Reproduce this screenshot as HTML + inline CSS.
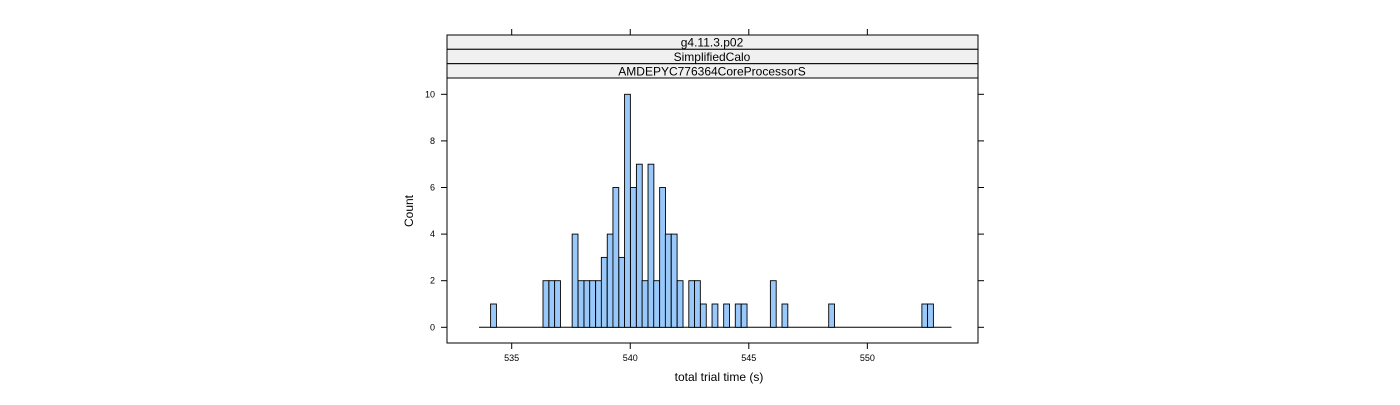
<!DOCTYPE html>
<html><head><meta charset="utf-8"><style>
body{margin:0;background:#fff;}
svg text{font-family:"Liberation Sans",sans-serif;}
</style></head><body>
<svg id="chart" width="1400" height="400" xmlns="http://www.w3.org/2000/svg">
<g id="strips">
<rect x="447" y="35" width="531" height="14.3" fill="#f0f0f0" stroke="#000" stroke-width="1"/>
<rect x="447" y="49.3" width="531" height="14.4" fill="#f0f0f0" stroke="#000" stroke-width="1"/>
<rect x="447" y="63.7" width="531" height="14.3" fill="#f0f0f0" stroke="#000" stroke-width="1"/>
<text x="712" y="46.5" font-size="12" text-anchor="middle">g4.11.3.p02</text>
<text x="712" y="61" font-size="12" text-anchor="middle">SimplifiedCalo</text>
<text x="712" y="75.3" font-size="12" text-anchor="middle">AMDEPYC776364CoreProcessorS</text>
</g>
<rect x="447" y="78" width="531" height="265" fill="none" stroke="#000" stroke-width="1"/>
<g id="axes"></g>
<g id="bars"></g>
<text x="719" y="381" font-size="12" text-anchor="middle">total trial time (s)</text>
<text x="0" y="0" font-size="12" text-anchor="middle" transform="translate(413,211) rotate(-90)">Count</text>
</svg>
<script>
const binStarts = [534.11,536.32,536.57,536.81,537.55,537.80,538.05,538.29,538.54,538.78,539.03,539.27,539.52,539.76,540.01,540.26,540.50,540.75,540.99,541.24,541.48,541.73,541.98,542.47,542.71,542.96,543.45,543.94,544.43,544.68,545.91,546.40,548.37,552.30,552.54];
const counts = [1,2,2,2,4,2,2,2,2,3,4,6,3,10,6,7,2,7,2,6,4,4,2,2,2,1,1,1,1,1,2,1,1,1,1];
const binWidth = 0.2457;
const xRange = [533.62, 553.55];
const xTicks = [535,540,545,550];
const yTicks = [0,2,4,6,8,10];

const NS = "http://www.w3.org/2000/svg";
function xs(v){ return 511.7 + (v-535)*23.71; }
function ys(c){ return 327.3 - c*23.3; }
function mk(tag, attrs, parent){
  const e = document.createElementNS(NS, tag);
  for (const k in attrs) e.setAttribute(k, attrs[k]);
  parent.appendChild(e);
  return e;
}
const axes = document.getElementById('axes');
const bars = document.getElementById('bars');

const base = mk('line', {x1: xs(xRange[0]), x2: xs(xRange[1]), y1: ys(0), y2: ys(0), stroke: '#000', 'stroke-width': 1}, bars);



binStarts.forEach((b, i) => {
  const x0 = xs(b), x1 = xs(b + binWidth);
  const r = mk('rect', {x: x0, y: ys(counts[i]), width: x1 - x0, height: ys(0) - ys(counts[i]), fill: '#99c9fa', stroke: '#000', 'stroke-width': 0.9}, bars);
  
  
});

xTicks.forEach(t => {
  const x = xs(t);
  const tb = mk('line', {x1: x, x2: x, y1: 343, y2: 349, stroke: '#000'}, axes);
  
  
  const tt = mk('line', {x1: x, x2: x, y1: 29, y2: 35, stroke: '#000'}, axes);
  
  
  const lb = mk('text', {x: x, y: 361, 'font-size': 9, 'text-anchor': 'middle'}, axes);
  lb.textContent = t;
  
  
});
yTicks.forEach(t => {
  const y = ys(t);
  const tl = mk('line', {x1: 441, x2: 447, y1: y, y2: y, stroke: '#000'}, axes);
  
  
  const tr = mk('line', {x1: 978, x2: 984, y1: y, y2: y, stroke: '#000'}, axes);
  
  
  const lb = mk('text', {x: 435, y: y + 3, 'font-size': 9, 'text-anchor': 'end'}, axes);
  lb.textContent = t;
  
  
});
</script>
</body></html>
